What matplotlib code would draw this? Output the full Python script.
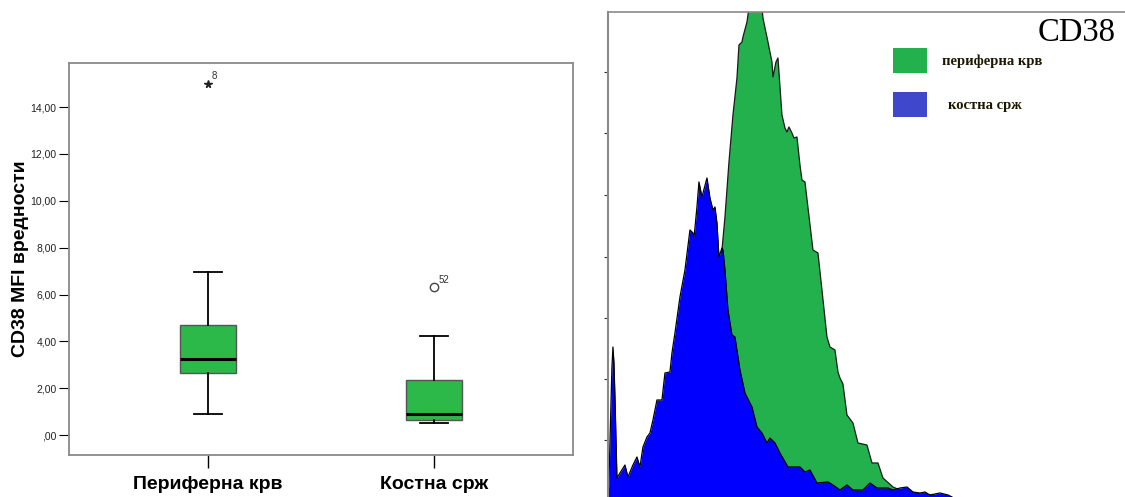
import matplotlib.pyplot as plt
from matplotlib.patches import Rectangle

plt.rcParams['font.family'] = ['Liberation Sans', 'DejaVu Sans']

# ---- left panel: boxplot data
groups = ["Периферна крв", "Костна срж"]
q1 = [2.66, 0.64]
median = [3.23, 0.92]
q3 = [4.69, 2.35]
whisker_low = [0.88, 0.51]
whisker_high = [6.94, 4.25]
outlier_vals = [15.0, 6.33]
outlier_ids = ["8", "52"]
outlier_marks = ["*", "o"]
ytick_vals = [0, 2, 4, 6, 8, 10, 12, 14]
ytick_labels = [",00", "2,00", "4,00", "6,00", "8,00", "10,00", "12,00", "14,00"]

# ---- right panel: CD38 histogram outlines (channel, count)
green_ch = [0, 32, 52, 72, 87, 97, 104, 110, 114, 117, 121, 125, 129, 131, 134, 135,
            139, 141, 145, 149, 152, 154, 155, 160, 164, 165, 168, 170, 171, 174, 177,
            179, 181, 184, 186, 189, 192, 194, 197, 205, 210, 214, 219, 222, 227, 230,
            232, 235, 239, 245, 250, 259, 264, 270, 275, 285, 292, 312, 342]
green_cnt = [0, 2, 7, 22, 57, 107, 167, 217, 247, 280, 335, 382, 419, 452, 455, 460,
             475, 489, 497, 485, 497, 489, 479, 455, 435, 420, 435, 439, 425, 382, 369,
             365, 370, 364, 359, 360, 332, 317, 315, 247, 244, 207, 160, 150, 147, 125,
             119, 113, 82, 74, 54, 52, 34, 34, 19, 10, 7, 3, 0]
blue_ch = [0, 1, 2, 4, 5, 6, 7, 9, 12, 17, 20, 25, 29, 32, 35, 39, 42, 45, 49, 54, 57,
           62, 64, 67, 72, 77, 82, 85, 86, 89, 91, 94, 99, 102, 105, 107, 109, 111, 114,
           115, 117, 120, 124, 127, 132, 137, 144, 149, 154, 159, 162, 167, 172, 180,
           192, 197, 202, 209, 220, 225, 232, 239, 245, 255, 262, 269, 280, 285, 292,
           299, 305, 312, 317, 322, 332, 340, 344]
blue_cnt = [0, 15, 54, 130, 150, 134, 100, 19, 24, 32, 20, 32, 40, 30, 50, 60, 64, 77,
            97, 97, 124, 125, 144, 164, 200, 227, 267, 264, 259, 290, 315, 300, 319, 299,
            287, 290, 274, 240, 249, 247, 227, 187, 162, 160, 127, 104, 90, 70, 64, 54,
            59, 54, 44, 30, 30, 25, 27, 14, 15, 12, 7, 12, 7, 7, 14, 9, 9, 7, 9, 10, 5,
            4, 5, 2, 4, 2, 0]
hist_ticks = [57, 118, 179, 240, 302, 364, 425]
legend_labels = ["периферна крв", "костна срж"]
legend_colors = ["#22B14C", "#3F48CC"]

fig = plt.figure(figsize=(11.25, 4.97), dpi=100)

# ---------------- boxplot
ax1 = fig.add_axes([0.0613, 0.0845, 0.448, 0.7887])
stats = []
for i in range(len(groups)):
    stats.append({"q1": q1[i], "med": median[i], "q3": q3[i],
                  "whislo": whisker_low[i], "whishi": whisker_high[i], "fliers": []})
ax1.bxp(stats, positions=[1, 2], widths=0.25, patch_artist=True, showfliers=False,
        boxprops=dict(facecolor="#2DB84A", edgecolor="#555555", linewidth=1.0),
        medianprops=dict(color="black", linewidth=2.2),
        whiskerprops=dict(color="black", linewidth=1.3),
        capprops=dict(color="black", linewidth=1.3), capwidths=0.125)
for i in range(len(groups)):
    if outlier_marks[i] == "*":
        ax1.plot(i + 1, outlier_vals[i], marker="*", color="#222222", markersize=5.5)
    else:
        ax1.plot(i + 1, outlier_vals[i], marker="o", mfc="white", mec="#444444",
                 markersize=6, mew=1)
    ax1.annotate(outlier_ids[i], (i + 1, outlier_vals[i]), xytext=(3, 3),
                 textcoords="offset points", fontsize=7, color="#333333")
ax1.set_xlim(0.385, 2.615)
ax1.set_ylim(-0.85, 15.88)
ax1.set_yticks(ytick_vals)
ax1.set_yticklabels(ytick_labels, fontsize=7.5, color="#222222")
ax1.set_xticks([1, 2])
ax1.set_xticklabels(groups, fontsize=14, fontweight="bold")
ax1.tick_params(axis="y", length=7, width=0.8, pad=2)
ax1.tick_params(axis="x", length=9, width=1, pad=6)
ax1.set_ylabel("CD38 MFI вредности", fontsize=14, fontweight="bold", labelpad=1)
for s in ax1.spines.values():
    s.set_color("#8a8a8a")
    s.set_linewidth(1.3)

# ---------------- histogram overlay
ax2 = fig.add_axes([0.5404, 0.0, 0.4596, 0.9759])
ax2.fill_between(green_ch, green_cnt, color="#22B14C", linewidth=0, zorder=1)
ax2.plot(green_ch, green_cnt, color="#1a1a1a", linewidth=0.9, zorder=1.5)
ax2.fill_between(blue_ch, blue_cnt, color="#0000FF", linewidth=0, zorder=2)
ax2.plot(blue_ch, blue_cnt, color="black", linewidth=0.9, zorder=2.5)
ax2.set_xlim(0, 517)
ax2.set_ylim(0, 485)
ax2.set_xticks([])
ax2.set_yticks(hist_ticks)
ax2.set_yticklabels([])
ax2.tick_params(axis="y", length=3, width=0.8, color="#333333")
ax2.spines["right"].set_visible(False)
ax2.spines["bottom"].set_visible(False)
ax2.spines["left"].set_color("#8a8a8a")
ax2.spines["left"].set_linewidth(1.5)
ax2.spines["top"].set_color("#8a8a8a")
ax2.spines["top"].set_linewidth(1.2)

ax2.text(0.981, 0.957, "CD38", transform=ax2.transAxes, ha="right", va="center",
         fontsize=23.5, family="Liberation Serif", color="black")
patch_y = [0.874, 0.784]
text_x = [0.646, 0.658]
text_y = [0.899, 0.808]
for i in range(len(legend_labels)):
    ax2.add_patch(Rectangle((0.551, patch_y[i]), 0.0658, 0.051, transform=ax2.transAxes,
                            facecolor=legend_colors[i], edgecolor="none", clip_on=False))
    ax2.text(text_x[i], text_y[i], legend_labels[i], transform=ax2.transAxes,
             ha="left", va="center", fontsize=10.5, fontweight="bold",
             family="Liberation Serif", color="#1c1700")

fig.savefig("out.png", dpi=100)
